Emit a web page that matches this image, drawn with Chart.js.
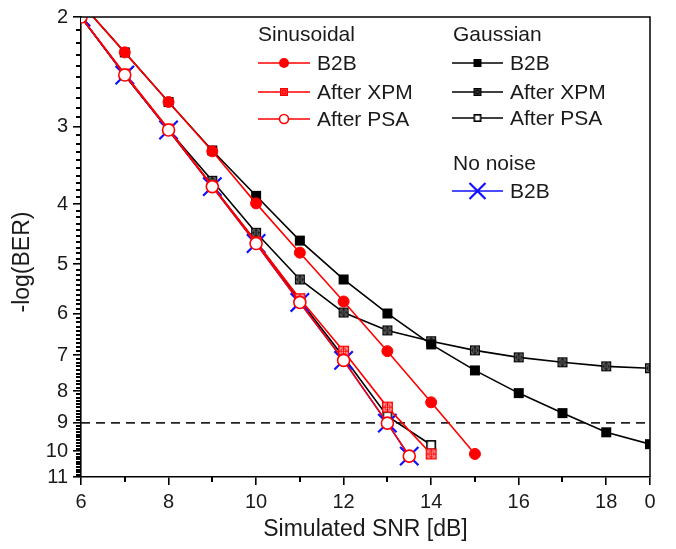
<!DOCTYPE html>
<html>
<head>
<meta charset="utf-8">
<script src="https://cdn.jsdelivr.net/npm/chart.js@4.4.1/dist/chart.umd.min.js"></script>
<style>
  html, body { margin: 0; padding: 0; background: #fff; }
  #wrap { width: 676px; height: 549px; position: relative; }
</style>
</head>
<body>
<div id="wrap"><canvas id="c"></canvas></div>
<script>
// ---------- data ----------
const snrSinB2B   = [6, 7, 8, 9, 10, 11, 12, 13, 14, 15];
const sinB2B      = [1.9, 2.28, 2.74, 3.29, 3.99, 4.79, 5.74, 6.90, 8.34, 10.1];

const snrSinXPM   = [6, 7, 8, 9, 10, 11, 12, 13, 14];
const sinXPM      = [2.0, 2.47, 3.03, 3.74, 4.60, 5.68, 6.90, 8.49, 10.1];

const snrSinPSA   = [6, 7, 8, 9, 10, 11, 12, 13, 13.5];
const sinPSA      = [2.0, 2.48, 3.04, 3.75, 4.63, 5.76, 7.14, 9.01, 10.18];

const snrGauss    = [6, 7, 8, 9, 10, 11, 12, 13, 14, 15, 16, 17, 18, 19];
const gaussB2B    = [1.9, 2.28, 2.74, 3.28, 3.88, 4.58, 5.29, 6.00, 6.73, 7.41, 8.06, 8.68, 9.32, 9.74];
const gaussXPM    = [2.0, 2.48, 3.04, 3.67, 4.45, 5.29, 5.98, 6.39, 6.65, 6.88, 7.06, 7.19, 7.30, 7.35];

const snrGaussPSA = [6, 7, 8, 9, 10, 11, 12, 13, 14];
const gaussPSA    = [2.0, 2.48, 3.04, 3.74, 4.60, 5.72, 7.05, 8.78, 9.77];

const snrNoNoise  = [6, 7, 8, 9, 10, 11, 12, 13, 13.5];
const noNoiseB2B  = [2.0, 2.48, 3.04, 3.75, 4.63, 5.76, 7.14, 9.01, 10.18];

const xTickValues = [6, 8, 10, 12, 14, 16, 18, 19];
const xTickLabels = ['6', '8', '10', '12', '14', '16', '18', '0'];
const xMinorTicks = [7, 9, 11, 13, 15, 17];
const yTickValues = [2, 3, 4, 5, 6, 7, 8, 9, 10, 11];
const berThreshold = 9;

// ---------- styling ----------
const RED = '#ff0000', BLACK = '#000000', BLUE = '#1010ff';
const FONT = '"Liberation Sans", Arial, sans-serif';

function squareMarker(color, kind, size) {
  const pad = 2, c = document.createElement('canvas');
  c.width = c.height = size + pad * 2;
  const g = c.getContext('2d');
  const x0 = pad, y0 = pad;
  if (kind === 'filled') {
    g.fillStyle = color; g.fillRect(x0, y0, size, size);
  } else {
    g.fillStyle = '#fff'; g.fillRect(x0, y0, size, size);
    g.strokeStyle = color; g.lineWidth = 1.6;
    g.strokeRect(x0 + 0.8, y0 + 0.8, size - 1.6, size - 1.6);
    if (kind === 'pattern') {
      g.lineWidth = 1.2;
      const m = size / 2 + pad;
      g.strokeRect(x0 + size * 0.28, y0 + size * 0.28, size * 0.44, size * 0.44);
      g.beginPath();
      g.moveTo(m, y0 + 1); g.lineTo(m, y0 + size - 1);
      g.moveTo(x0 + 1, m); g.lineTo(x0 + size - 1, m);
      g.stroke();
    }
  }
  return c;
}
const mkGaussB2B = squareMarker(BLACK, 'filled', 10);
const mkGaussXPM = squareMarker(BLACK, 'pattern', 10);
const mkGaussPSA = squareMarker(BLACK, 'open', 10);
const mkSinXPM   = squareMarker(RED, 'pattern', 11);
const mkGaussB2BL = squareMarker(BLACK, 'filled', 8);
const mkGaussXPML = squareMarker(BLACK, 'pattern', 8);
const mkGaussPSAL = squareMarker(BLACK, 'open', 8);
const mkSinXPML   = squareMarker(RED, 'pattern', 8);

const pts = (xs, ys) => xs.map((x, i) => ({ x: x, y: ys[i] }));

const datasets = [
  { label: 'Sinusoidal After PSA', data: pts(snrSinPSA, sinPSA), borderColor: RED, borderWidth: 1.6,
    pointStyle: 'circle', pointRadius: 6, pointBackgroundColor: '#fff', pointBorderColor: RED, pointBorderWidth: 1.6 },
  { label: 'Sinusoidal B2B', data: pts(snrSinB2B, sinB2B), borderColor: RED, borderWidth: 1.6,
    pointStyle: 'circle', pointRadius: 5.5, pointBackgroundColor: RED, pointBorderColor: RED, pointBorderWidth: 1 },
  { label: 'Sinusoidal After XPM', data: pts(snrSinXPM, sinXPM), borderColor: RED, borderWidth: 1.6,
    pointStyle: mkSinXPM },
  { label: 'No noise B2B', data: pts(snrNoNoise, noNoiseB2B), borderColor: BLUE, borderWidth: 1.6,
    pointStyle: 'crossRot', pointRadius: 13, pointBorderColor: BLUE, pointBorderWidth: 2.2 },
  { label: 'Gaussian After PSA', data: pts(snrGaussPSA, gaussPSA), borderColor: BLACK, borderWidth: 1.6,
    pointStyle: mkGaussPSA },
  { label: 'Gaussian B2B', data: pts(snrGauss, gaussB2B), borderColor: BLACK, borderWidth: 1.6,
    pointStyle: mkGaussB2B },
  { label: 'Gaussian After XPM', data: pts(snrGauss, gaussXPM), borderColor: BLACK, borderWidth: 1.6,
    pointStyle: mkGaussXPM }
];
datasets.forEach(d => { d.fill = false; d.tension = 0; d.pointHoverRadius = d.pointRadius; });

// ---------- custom drawing: frame, minor ticks, threshold, legend, y title ----------
const decorPlugin = {
  id: 'decor',
  beforeDatasetsDraw(chart) {
    const { ctx, chartArea: a, scales: { y } } = chart;
    const yy = y.getPixelForValue(berThreshold);
    ctx.save();
    ctx.strokeStyle = '#222'; ctx.lineWidth = 1.6; ctx.setLineDash([9, 6]);
    ctx.beginPath(); ctx.moveTo(a.left, yy); ctx.lineTo(a.right, yy); ctx.stroke();
    ctx.restore();
  },
  afterDraw(chart) {
    const { ctx, chartArea: a, scales: { x, y } } = chart;
    ctx.save();
    ctx.setLineDash([]);
    ctx.strokeStyle = '#000'; ctx.lineWidth = 1.5;
    // box top and right
    ctx.beginPath();
    ctx.moveTo(a.left, a.top); ctx.lineTo(a.right, a.top); ctx.lineTo(a.right, a.bottom);
    ctx.stroke();
    // minor ticks
    ctx.strokeStyle = '#000';
    ctx.lineWidth = 2;
    ctx.beginPath();
    xMinorTicks.forEach(v => {
      const px = Math.round(x.getPixelForValue(v));
      ctx.moveTo(px, a.bottom); ctx.lineTo(px, a.bottom + 5);
    });
    for (let k = 21; k < 110; k++) {
      if (k % 10 === 0) continue;
      const py = Math.round(y.getPixelForValue(k / 10));
      ctx.moveTo(a.left, py); ctx.lineTo(a.left - 5, py);
    }
    ctx.stroke();

    // y axis title
    ctx.fillStyle = '#1a1a1a';
    ctx.font = '23px ' + FONT;
    ctx.textAlign = 'center'; ctx.textBaseline = 'middle';
    ctx.save();
    ctx.translate(23, 262); ctx.rotate(-Math.PI / 2);
    ctx.fillText('-log(BER)', 0, 0);
    ctx.restore();

    // legend
    ctx.font = '21px ' + FONT;
    ctx.textAlign = 'left'; ctx.textBaseline = 'middle';
    ctx.fillText('Sinusoidal', 258, 35);
    ctx.fillText('Gaussian', 453, 35);
    ctx.fillText('No noise', 453, 164);
    const rows = [
      { x0: 258, x1: 310, y: 63, color: RED, mk: 'fcircle', text: 'B2B', tx: 317 },
      { x0: 258, x1: 310, y: 92, color: RED, mk: mkSinXPML, text: 'After XPM', tx: 317 },
      { x0: 258, x1: 310, y: 119, color: RED, mk: 'ocircle', text: 'After PSA', tx: 317 },
      { x0: 452, x1: 503, y: 63, color: BLACK, mk: mkGaussB2BL, text: 'B2B', tx: 510 },
      { x0: 452, x1: 503, y: 92, color: BLACK, mk: mkGaussXPML, text: 'After XPM', tx: 510 },
      { x0: 452, x1: 503, y: 118, color: BLACK, mk: mkGaussPSAL, text: 'After PSA', tx: 510 },
      { x0: 452, x1: 503, y: 191, color: BLUE, mk: 'cross', text: 'B2B', tx: 510 }
    ];
    rows.forEach(r => {
      const cx = (r.x0 + r.x1) / 2;
      ctx.strokeStyle = r.color; ctx.lineWidth = 1.6;
      ctx.beginPath(); ctx.moveTo(r.x0, r.y); ctx.lineTo(r.x1, r.y); ctx.stroke();
      if (r.mk === 'fcircle') {
        ctx.fillStyle = r.color; ctx.beginPath(); ctx.arc(cx, r.y, 5, 0, Math.PI * 2); ctx.fill();
      } else if (r.mk === 'ocircle') {
        ctx.fillStyle = '#fff'; ctx.beginPath(); ctx.arc(cx, r.y, 4.5, 0, Math.PI * 2); ctx.fill(); ctx.stroke();
      } else if (r.mk === 'cross') {
        ctx.lineWidth = 2.2; ctx.beginPath();
        ctx.moveTo(cx - 8, r.y - 8); ctx.lineTo(cx + 8, r.y + 8);
        ctx.moveTo(cx - 8, r.y + 8); ctx.lineTo(cx + 8, r.y - 8);
        ctx.stroke();
      } else {
        ctx.drawImage(r.mk, cx - r.mk.width / 2, r.y - r.mk.height / 2);
      }
      ctx.fillStyle = '#1a1a1a';
      ctx.fillText(r.text, r.tx, r.y + 1);
    });
    ctx.restore();
  }
};

new Chart(document.getElementById('c'), {
  type: 'line',
  data: { datasets: datasets },
  plugins: [decorPlugin],
  options: {
    responsive: true,
    maintainAspectRatio: false,
    animation: false,
    layout: { padding: { top: 16, right: 26, left: 0, bottom: 0 } },
    plugins: { legend: { display: false }, tooltip: { enabled: false } },
    scales: {
      x: {
        type: 'linear', min: 6, max: 19,
        afterFit(s) { s.height = 72; },
        afterBuildTicks(s) { s.ticks = xTickValues.map(v => ({ value: v })); },
        ticks: {
          color: '#1a1a1a', font: { family: FONT, size: 20 }, padding: 5, maxRotation: 0, autoSkip: false,
          callback: (v) => xTickLabels[xTickValues.indexOf(v)]
        },
        grid: { display: true, drawOnChartArea: false, drawTicks: true, tickLength: 8, color: '#000', lineWidth: 1.6 },
        border: { display: true, color: '#000', width: 1.6 },
        title: { display: true, text: 'Simulated SNR [dB]', color: '#1a1a1a', font: { family: FONT, size: 23 }, padding: { top: 0, bottom: 6 } }
      },
      y: {
        type: 'logarithmic', min: 2, max: 11, reverse: true,
        afterFit(s) { s.width = 81; },
        afterBuildTicks(s) { s.ticks = yTickValues.map(v => ({ value: v })); },
        ticks: {
          color: '#1a1a1a', font: { family: FONT, size: 20 }, padding: 5, autoSkip: false,
          callback: (v) => String(v)
        },
        grid: { display: true, drawOnChartArea: false, drawTicks: true, tickLength: 8, color: '#000', lineWidth: 1.6 },
        border: { display: true, color: '#000', width: 1.6 }
      }
    }
  }
});
</script>
</body>
</html>
